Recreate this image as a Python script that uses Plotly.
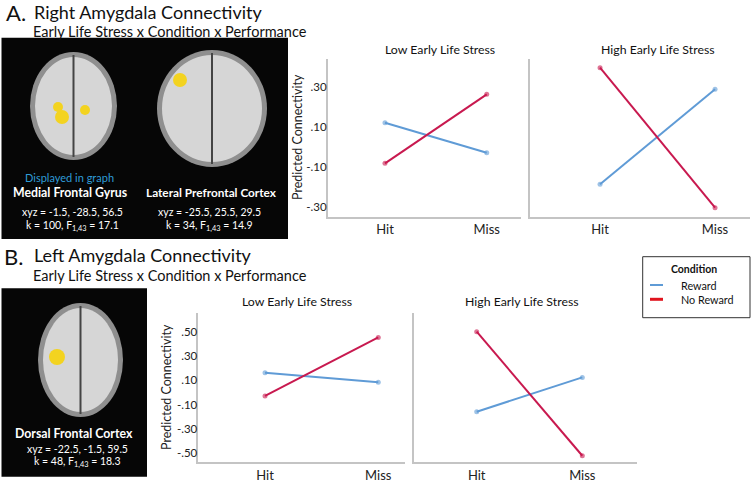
import plotly.graph_objects as go

W, H = 752, 484
FONT = "Lato"

# data
performance = ["Hit", "Miss"]
conditions = ["Reward", "No Reward"]
colors = {"Reward": "#5f9bd6", "No Reward": "#c8194f"}

# panel A - right amygdala
a_low = {"Reward": [0.12, -0.03], "No Reward": [-0.083, 0.262]}
a_high = {"Reward": [-0.188, 0.287], "No Reward": [0.395, -0.305]}
a_ticks = [-0.3, -0.1, 0.1, 0.3]
a_ticktext = ["-.30", "-.10", ".10", ".30"]

# panel B - left amygdala
b_low = {"Reward": [0.161, 0.082], "No Reward": [-0.03, 0.452]}
b_high = {"Reward": [-0.16, 0.123], "No Reward": [0.499, -0.522]}
b_ticks = [-0.5, -0.3, -0.1, 0.1, 0.3, 0.5]
b_ticktext = ["-.50", "-.30", "-.10", ".10", ".30", ".50"]


def px(x):
    return x / W


def py(y):
    return 1 - y / H


fig = go.Figure()

panels = [
    # (data, axis id, x px range, y px range, xrange, yrange, show y labels, panel)
    (a_low, "", (327.7, 520.7), (59, 217), [-0.563, 1.334], [-0.3515, 0.4385], True, "A"),
    (a_high, "2", (530, 750), (59, 217), [-0.609, 1.304], [-0.3515, 0.4385], False, "A"),
    (b_low, "3", (198.3, 405), (313, 462.3), [-0.589, 1.236], [-0.576, 0.653], True, "B"),
    (b_high, "4", (414.3, 636.7), (313, 462.3), [-0.591, 1.515], [-0.576, 0.653], False, "B"),
]

axis_style = dict(showgrid=False, zeroline=False, showline=True, linecolor="#c4c4c4",
                  linewidth=1.5, ticks="", fixedrange=True)

for data, ax, (x0, x1), (y0, y1), xr, yr, show_y, pan in panels:
    for c in conditions:
        fig.add_trace(go.Scatter(
            x=[0, 1], y=data[c], mode="lines+markers",
            line=dict(color=colors[c], width=2),
            marker=dict(size=5, color=colors[c], opacity=0.6),
            xaxis="x" + ax, yaxis="y" + ax, showlegend=False, hoverinfo="skip"))
    yax = dict(axis_style, domain=[py(y1), py(y0)], range=yr, anchor="x" + ax)
    if show_y:
        yax.update(tickvals=a_ticks if pan == "A" else b_ticks,
                   ticktext=a_ticktext if pan == "A" else b_ticktext,
                   tickfont=dict(size=11.5, color="#222"), ticklabelstandoff=-3)
    else:
        yax.update(showticklabels=False)
    fig.update_layout(**{
        "xaxis" + ax: dict(axis_style, domain=[px(x0), px(x1)], range=xr,
                           anchor="y" + ax, tickvals=[0, 1], ticktext=performance,
                           tickfont=dict(size=13, color="#222"), ticklen=4, tickcolor="rgba(0,0,0,0)"),
        "yaxis" + ax: yax,
    })

ann = []
shapes = []


def text(x, y, s, size, color="#111", bold=False, anchor="center", angle=0):
    if bold:
        s = "<b>" + s + "</b>"
    ann.append(dict(x=px(x), y=py(y), xref="paper", yref="paper", text=s, showarrow=False,
                    xanchor=anchor, yanchor="middle", textangle=angle,
                    font=dict(family=FONT, size=size, color=color)))


# y-axis titles
text(297, 137, "Predicted Connectivity", 12.5, color="#222", angle=-90)
text(166, 387, "Predicted Connectivity", 12.5, color="#222", angle=-90)

# subplot titles
text(440, 50, "Low Early Life Stress", 12.3)
text(658, 50, "High Early Life Stress", 12.3)
text(297, 301.5, "Low Early Life Stress", 12.3)
text(522, 301, "High Early Life Stress", 12.3)

# panel headings
text(4, 13, "A.", 22, anchor="left")
text(32, 12, "Right Amygdala Connectivity", 18, anchor="left")
text(31, 31.5, "Early Life Stress x Condition x Performance", 14.5, anchor="left")
text(2, 256, "B.", 22, anchor="left")
text(32, 255, "Left Amygdala Connectivity", 18, anchor="left")
text(31, 275, "Early Life Stress x Condition x Performance", 14.5, anchor="left")

# brain image panels (drawn schematically)
shapes.append(dict(type="rect", xref="paper", yref="paper", x0=px(1.5), x1=px(288),
                   y0=py(239), y1=py(37.7), fillcolor="#060606", line=dict(width=0), layer="below"))
shapes.append(dict(type="rect", xref="paper", yref="paper", x0=px(1.5), x1=px(147),
                   y0=py(476.7), y1=py(288.3), fillcolor="#060606", line=dict(width=0), layer="below"))

brains = [(30, 117, 52, 160), (157, 267, 50, 167), (38, 123, 303, 417)]
for bx0, bx1, by0, by1 in brains:
    shapes.append(dict(type="circle", xref="paper", yref="paper", x0=px(bx0), x1=px(bx1),
                       y0=py(by1), y1=py(by0), fillcolor="#8f8f8f", line=dict(width=0), layer="below"))
    shapes.append(dict(type="circle", xref="paper", yref="paper", x0=px(bx0 + 5), x1=px(bx1 - 5),
                       y0=py(by1 - 5), y1=py(by0 + 5), fillcolor="#d6d6d6", line=dict(width=0), layer="below"))
    cx = (bx0 + bx1) / 2
    shapes.append(dict(type="line", xref="paper", yref="paper", x0=px(cx), x1=px(cx),
                       y0=py(by1 - 3), y1=py(by0 + 3), line=dict(color="#444", width=2), layer="below"))

blobs = [(62, 117, 7), (58, 107, 5), (85, 110, 5), (180, 80, 7), (57, 357, 8)]
for bx, by, r in blobs:
    shapes.append(dict(type="circle", xref="paper", yref="paper", x0=px(bx - r), x1=px(bx + r),
                       y0=py(by + r), y1=py(by - r), fillcolor="#f3d320", line=dict(width=0), layer="below"))

text(69, 177.7, "Displayed in graph", 11, color="#2f9bd6")
text(70, 192.7, "Medial Frontal Gyrus", 12.3, color="white", bold=True)
text(72, 211.7, "xyz = -1.5, -28.5, 56.5", 10.5, color="white")
text(72, 226, "k = 100, F<sub>1,43</sub> = 17.1", 10.5, color="white")
text(211, 192.7, "Lateral Prefrontal Cortex", 11.8, color="white", bold=True)
text(210, 211.7, "xyz = -25.5, 25.5, 29.5", 10.5, color="white")
text(210, 226, "k = 34, F<sub>1,43</sub> = 14.9", 10.5, color="white")
text(74, 433.3, "Dorsal Frontal Cortex", 12.3, color="white", bold=True)
text(77, 449.3, "xyz = -22.5, -1.5, 59.5", 10.5, color="white")
text(77, 462.3, "k = 48, F<sub>1,43</sub> = 18.3", 10.5, color="white")

# legend box
shapes.append(dict(type="rect", xref="paper", yref="paper", x0=px(642.7), x1=px(750),
                   y0=py(317.7), y1=py(256.7), line=dict(color="#333", width=1)))
text(694, 269.3, "Condition", 10.5, bold=True)
for c, ly, lw in [("Reward", 285, 2), ("No Reward", 299.3, 3)]:
    shapes.append(dict(type="line", xref="paper", yref="paper", x0=px(650), x1=px(663),
                       y0=py(ly), y1=py(ly), line=dict(color=colors[c] if c == "Reward" else "#e0141e", width=lw)))
    text(679, ly, c, 10.8, anchor="left")

fig.update_layout(
    width=W, height=H, margin=dict(l=0, r=0, t=0, b=0),
    paper_bgcolor="white", plot_bgcolor="white",
    font=dict(family=FONT, color="#222"),
    annotations=ann, shapes=shapes, showlegend=False,
)

fig.write_html("out.html", config={"displayModeBar": False},
               post_script="document.body.style.margin='0';")
